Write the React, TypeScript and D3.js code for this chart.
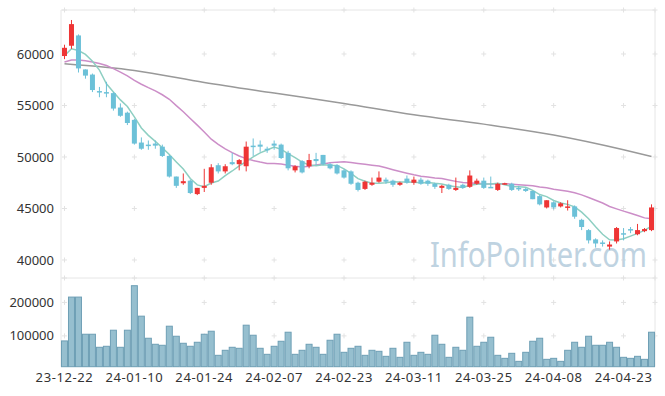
import React from 'react';
import * as d3 from 'd3';

// trading days shown on the chart
const dates = [
  '23-12-22', '23-12-26', '23-12-27', '23-12-28', '24-01-02', '24-01-03', '24-01-04', '24-01-05', '24-01-08', '24-01-09',
  '24-01-10', '24-01-11', '24-01-12', '24-01-15', '24-01-16', '24-01-17', '24-01-18', '24-01-19', '24-01-22', '24-01-23',
  '24-01-24', '24-01-25', '24-01-26', '24-01-29', '24-01-30', '24-01-31', '24-02-01', '24-02-02', '24-02-05', '24-02-06',
  '24-02-07', '24-02-08', '24-02-13', '24-02-14', '24-02-15', '24-02-16', '24-02-19', '24-02-20', '24-02-21', '24-02-22',
  '24-02-23', '24-02-26', '24-02-27', '24-02-28', '24-02-29', '24-03-04', '24-03-05', '24-03-06', '24-03-07', '24-03-08',
  '24-03-11', '24-03-12', '24-03-13', '24-03-14', '24-03-15', '24-03-18', '24-03-19', '24-03-20', '24-03-21', '24-03-22',
  '24-03-25', '24-03-26', '24-03-27', '24-03-28', '24-03-29', '24-04-01', '24-04-02', '24-04-03', '24-04-04', '24-04-05',
  '24-04-08', '24-04-09', '24-04-11', '24-04-12', '24-04-15', '24-04-16', '24-04-17', '24-04-18', '24-04-19', '24-04-22',
  '24-04-23', '24-04-24', '24-04-25', '24-04-26', '24-04-29',
];

const opens = [
  59800, 60800, 61800, 58500, 58000, 56400, 56300, 56200, 54800, 54300,
  53600, 51400, 51200, 51300, 51000, 50100, 48100, 47450, 47700, 46400,
  47000, 47500, 49200, 48600, 49500, 49300, 49100, 51100, 51200, 50800,
  51300, 51200, 50400, 48700, 49600, 49100, 49800, 50200, 49300, 49200,
  48700, 48600, 47500, 46900, 47300, 47600, 47800, 47700, 47300, 47900,
  47500, 47800, 47700, 47400, 47000, 47300, 46800, 47300, 47100, 47400,
  47700, 47100, 46800, 47400, 47400, 47000, 46900, 46700, 46200, 45100,
  45600, 45200, 45100, 45200, 43900, 42900, 42000, 41700, 41300, 41800,
  42600, 43000, 42500, 42800, 42900,
];
const highs = [
  60900, 63300, 61900, 58500, 58100, 56800, 57300, 56300, 55200, 54400,
  53700, 51900, 51600, 51600, 51200, 50200, 48100, 48400, 47800, 47000,
  48850, 49300, 49400, 49300, 50400, 49800, 51500, 51800, 51600, 51000,
  51600, 51300, 50600, 49200, 49700, 50300, 50400, 50200, 49400, 49300,
  48800, 48700, 47600, 47700, 48000, 48600, 48000, 47800, 47600, 48200,
  48100, 48000, 47800, 47500, 47300, 47400, 48000, 47400, 48700, 47900,
  48000, 48100, 47500, 47500, 47500, 47200, 47000, 46700, 46300, 45800,
  45700, 45600, 45800, 45300, 44000, 43000, 42100, 41900, 41800, 43200,
  43100, 43200, 43500, 43100, 45400,
];
const lows = [
  59500, 60500, 58200, 57600, 56300, 55800, 55800, 54500, 53900, 53100,
  51200, 50700, 50700, 50800, 50000, 48000, 47000, 47300, 46400, 46300,
  46600, 47300, 48400, 48400, 49200, 48700, 48600, 50100, 50500, 50400,
  50700, 49800, 48700, 48500, 48400, 48900, 49200, 49200, 48800, 48300,
  47900, 47300, 46650, 46800, 47200, 47500, 47400, 47100, 47200, 47400,
  47300, 47300, 47200, 46900, 46500, 46800, 46700, 46900, 47000, 47300,
  46900, 47000, 46700, 47300, 46700, 46700, 46600, 45900, 45300, 45000,
  44900, 45100, 44800, 44000, 42900, 41600, 41200, 41300, 41000, 41600,
  41900, 42600, 42400, 42700, 42800,
];
const closes = [
  60600, 62900, 58600, 57900, 56500, 56300, 56200, 54700, 54000, 53300,
  51300, 50800, 51100, 51100, 50100, 48100, 47200, 47650, 46500, 47000,
  47200, 49000, 48600, 49100, 49300, 49700, 51000, 51000, 51000, 50700,
  51100, 49900, 48900, 49100, 48500, 49700, 49600, 49300, 48900, 48400,
  48000, 47400, 46800, 47600, 47500, 48000, 47600, 47300, 47500, 47500,
  47800, 47400, 47400, 47100, 47200, 46900, 47000, 47000, 48200, 47700,
  47000, 47000, 47400, 47450, 46800, 46950, 46700, 45900, 45400, 45800,
  45100, 45500, 45200, 44200, 43200, 41900, 41600, 41600, 41500, 43100,
  42500, 42900, 42900, 43000, 45100,
];
const volumes = [
  85000, 216000, 216000, 105000, 105000, 66000, 69000, 117000, 66000, 117000,
  250000, 159000, 93000, 75000, 72000, 129000, 99000, 78000, 69000, 81000,
  105000, 114000, 42000, 57000, 66000, 63000, 132000, 102000, 63000, 45000,
  69000, 84000, 111000, 45000, 57000, 75000, 66000, 45000, 87000, 105000,
  51000, 63000, 69000, 42000, 57000, 54000, 39000, 63000, 36000, 81000,
  42000, 51000, 45000, 102000, 75000, 36000, 66000, 57000, 156000, 69000,
  81000, 96000, 42000, 33000, 48000, 24000, 51000, 84000, 93000, 30000,
  33000, 24000, 57000, 81000, 66000, 99000, 72000, 72000, 81000, 66000,
  36000, 33000, 39000, 30000, 111000,
];

// closes before the first visible day (oldest first), needed for the moving averages
const priorCloses = [
  59000, 58800, 59200, 58900, 59300, 60200, 60600, 60800, 60500, 60200,
  58200, 57800, 57400, 57600, 56800, 59600, 59400, 59800, 59800,
];

// long moving average
const longMaBars = [0, 10, 20, 30, 40, 50, 60, 70, 80, 84];
const longMaValues = [59050, 58400, 57240, 56210, 55200, 54100, 53190, 52130, 50700, 50050];

const priceTicks = [40000, 45000, 50000, 55000, 60000];
const volumeTicks = [100000, 200000];

const W = 665;
const H = 396;
const left = 61;
const right = 655;
const top = 10;
const split = 278;
const bottom = 366.7;

const upColor = '#ee3535';
const downColor = '#6cc1d8';
const font = '"Noto Sans", "DejaVu Sans", sans-serif';

function movingAvg(n: number) {
  const all = priorCloses.concat(closes);
  const off = priorCloses.length;
  return closes.map((_, i) => d3.mean(all.slice(off + i - n + 1, off + i + 1)) as number);
}

export default function App() {
  const x = d3.scaleBand<string>().domain(dates).range([left, right]).padding(0);
  const bw = x.bandwidth();
  const cx = (i: number) => (x(dates[i]) as number) + bw / 2;

  const y = d3.scaleLinear().domain([38250, 64270]).range([split, top]);
  const yv = d3.scaleLinear().domain([8000, 273000]).range([bottom, split]);

  const ma5 = movingAvg(5);
  const ma20 = movingAvg(20);

  const maLine = d3
    .line<number>()
    .x((_, i) => cx(i))
    .y((d) => y(d));

  const longLine = d3
    .line<number>()
    .x((_, i) => cx(longMaBars[i]))
    .y((d) => y(d))
    .curve(d3.curveMonotoneX);

  const tickBars = dates.map((_, i) => i).filter((i) => i % 10 === 0);
  const crossYs = [top, ...priceTicks.map(y), split, ...volumeTicks.map(yv)];
  const cross = (px: number, py: number, key: string) => (
    <path key={key} d={`M${px - 2.5},${py}H${px + 2.5}M${px},${py - 2.5}V${py + 2.5}`} stroke="#e2e2e2" strokeWidth={1} />
  );

  return (
    <svg width={W} height={H} style={{ position: 'absolute', left: 0, top: 0, background: '#fff' }} fontFamily={font}>
      {/* frame */}
      <g stroke="#e6e6e6" strokeWidth={1} fill="none">
        <path d={`M${left},${bottom}V${top}H${right}V${bottom}`} />
        <line x1={left} x2={right} y1={split} y2={split} />
      </g>

      {/* grid crosses */}
      <g>
        {tickBars.map((i) => crossYs.map((py, j) => cross(cx(i), py, `c${i}-${j}`)))}
        {crossYs.map((py, j) => cross(right, py, `r${j}`))}
      </g>

      {/* watermark */}
      <text x={430} y={267} fontSize={34} fill="#bfd3e1" textLength={217} lengthAdjust="spacingAndGlyphs">
        InfoPointer.com
      </text>

      {/* volume */}
      <g fill="#96bfcf" stroke="#6e9fb5" strokeWidth={1}>
        {volumes.map((v, i) => (
          <rect key={i} x={(x(dates[i]) as number) + 0.5} width={bw - 1} y={yv(v)} height={bottom - yv(v)} />
        ))}
      </g>

      {/* moving averages */}
      <path d={longLine(longMaValues) as string} fill="none" stroke="#999" strokeWidth={1.5} />
      <path d={maLine(ma20) as string} fill="none" stroke="#cc8ec8" strokeWidth={1.5} />
      <path d={maLine(ma5) as string} fill="none" stroke="#8ecfc2" strokeWidth={1.5} />

      {/* candles */}
      <g>
        {dates.map((d, i) => {
          const up = closes[i] >= opens[i];
          const c = up ? upColor : downColor;
          const y0 = y(Math.max(opens[i], closes[i]));
          const y1 = y(Math.min(opens[i], closes[i]));
          return (
            <g key={d}>
              <line x1={cx(i)} x2={cx(i)} y1={y(highs[i])} y2={y(lows[i])} stroke={c} strokeWidth={1} />
              <rect x={cx(i) - 2.5} width={5} y={y0} height={Math.max(1.5, y1 - y0)} fill={c} />
            </g>
          );
        })}
      </g>

      {/* axes labels */}
      <g fontSize={13} fill="#333" textAnchor="end">
        {priceTicks.map((t) => (
          <text key={t} x={54} y={y(t)} dy="0.35em">
            {t}
          </text>
        ))}
        {volumeTicks.map((t) => (
          <text key={t} x={54} y={yv(t)} dy="0.35em">
            {t}
          </text>
        ))}
      </g>
      <g fontSize={13} fill="#333" textAnchor="middle" letterSpacing={0.6}>
        {tickBars.map((i) => (
          <text key={i} x={cx(i)} y={382}>
            {dates[i]}
          </text>
        ))}
      </g>
    </svg>
  );
}
